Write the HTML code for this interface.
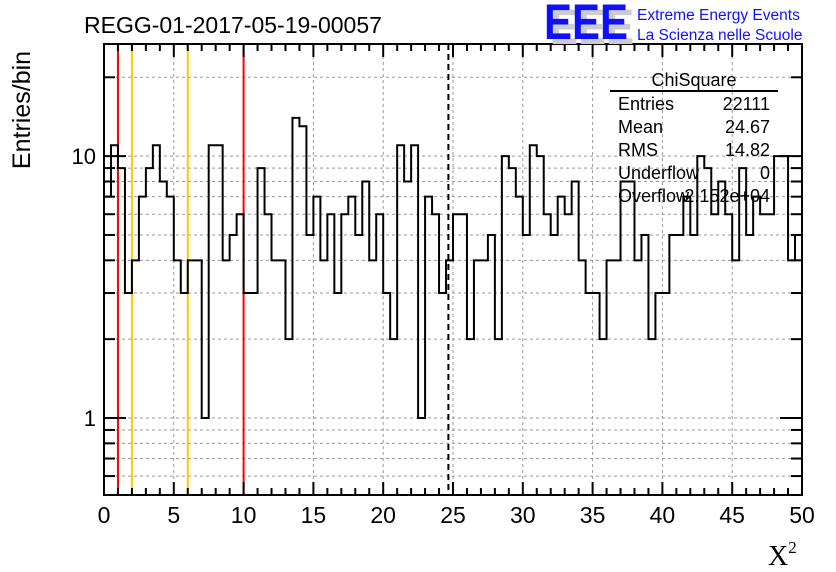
<!DOCTYPE html>
<html><head><meta charset="utf-8"><style>
body{margin:0;background:#fff;}
svg{display:block;font-family:"Liberation Sans",sans-serif;}
</style></head><body>
<svg id="chart" width="836" height="572" viewBox="0 0 836 572" xmlns="http://www.w3.org/2000/svg">
<rect width="836" height="572" fill="#fff"/>
<g id="grid"></g>
<g id="marks"></g>
<path id="hist" fill="none" stroke="#000" stroke-width="2"/>
<g id="axes"></g>
<rect x="104" y="44" width="698" height="451" fill="none" stroke="#000" stroke-width="2"/>
<text x="84" y="33" font-size="23">REGG-01-2017-05-19-00057</text>
<g>
<text x="550" y="44" font-size="50" font-weight="bold" fill="#ccc" textLength="84" lengthAdjust="spacingAndGlyphs">EEE</text>
<text x="544" y="39" font-size="50" font-weight="bold" fill="#1010ff" textLength="84" lengthAdjust="spacingAndGlyphs">EEE</text>
<text x="637" y="20" font-size="15.5" fill="#1010ff">Extreme Energy Events</text>
<text x="637" y="40" font-size="15.5" fill="#1010ff">La Scienza nelle Scuole</text>
</g>
<text transform="translate(30,110) rotate(-90)" text-anchor="middle" font-size="25">Entries/bin</text>
<text x="768" y="565" font-family="Liberation Serif,serif" font-size="28">X<tspan font-size="17" dy="-12">2</tspan></text>
<g font-size="18">
<text x="694" y="86" text-anchor="middle">ChiSquare</text>
<line x1="610" y1="91" x2="778" y2="91" stroke="#000" stroke-width="2"/>
<text x="618" y="110">Entries</text><text x="770" y="110" text-anchor="end">22111</text>
<text x="618" y="133">Mean</text><text x="770" y="133" text-anchor="end">24.67</text>
<text x="618" y="156">RMS</text><text x="770" y="156" text-anchor="end">14.82</text>
<text x="618" y="179">Underflow</text><text x="770" y="179" text-anchor="end">0</text>
<text x="618" y="202">Overflow</text><text x="770" y="202" text-anchor="end">2.152e+04</text>
</g>
</svg>
<script>
const counts = [7,11,9,3,4,7,9,11,8,7,4,3,4,4,1,11,11,4,5,6,3,3,9,6,4,4,2,14,13,5,7,4,6,3,6,7,5,8,4,6,3,2,11,8,11,1,7,6,3,4,
6,6,2,4,4,5,2,10,9,7,5,11,10,6,5,7,6,8,4,3,3,2,4,4,8,8,4,5,2,3,3,5,5,7,5,10,9,6,8,6,4,9,5,7,6,6,10,10,4,5];
const xMin = 0, xMax = 50;
const xTicks = [0,5,10,15,20,25,30,35,40,45,50];
const yLabels = [1,10];
const redLines = [1,10];
const orangeLines = [2,6];
const meanValue = 24.67;
const L=104,R=802,T=44,B=495, yMinV=0.508, yMaxV=26.8;
const NS="http://www.w3.org/2000/svg";
function X(v){return L+(v-xMin)/(xMax-xMin)*(R-L);}
function Y(v){return B-(Math.log10(v)-Math.log10(yMinV))/(Math.log10(yMaxV)-Math.log10(yMinV))*(B-T);}
function mk(tag,attrs,parent){const e=document.createElementNS(NS,tag);for(const k in attrs)e.setAttribute(k,attrs[k]);parent.appendChild(e);return e;}
const grid=document.getElementById('grid'), axes=document.getElementById('axes'), marks=document.getElementById('marks');
const yt=[];
for(const d of [0.1,1,10]) for(let m=1;m<10;m++){const v=d*m;if(v>=yMinV&&v<=yMaxV)yt.push(v);}
yt.forEach(v=>{
  const g=mk('line',{x1:L,x2:R,y1:Y(v),y2:Y(v),stroke:'#999','stroke-dasharray':'3,3','stroke-width':1},grid);
  
  
  const major=(v===1||v===10);
  const len=major?22:11;
  const t1=mk('line',{x1:L,x2:L+len,y1:Y(v),y2:Y(v),stroke:'#000','stroke-width':2},axes);
  
  
  const t2=mk('line',{x1:R,x2:R-len,y1:Y(v),y2:Y(v),stroke:'#000','stroke-width':2},axes);
  
  
});
yLabels.forEach(v=>{
  const t=mk('text',{x:L-8,y:Y(v)+8,'text-anchor':'end','font-size':22},axes);
  t.textContent=v;
  
  
});
for(let v=xMin;v<=xMax;v++){
  const major=v%5===0, len=major?13:7;
  const a=mk('line',{x1:X(v),x2:X(v),y1:B,y2:B-len,stroke:'#000','stroke-width':2},axes);
  
  
  const b=mk('line',{x1:X(v),x2:X(v),y1:T,y2:T+len,stroke:'#000','stroke-width':2},axes);
  
  
}
xTicks.forEach(v=>{
  const g=mk('line',{x1:X(v),x2:X(v),y1:T,y2:B,stroke:'#999','stroke-dasharray':'3,3','stroke-width':1},grid);
  
  
  const t=mk('text',{x:X(v),y:B+28,'text-anchor':'middle','font-size':23},axes);
  t.textContent=v;
  
  
});
const w=(xMax-xMin)/counts.length;
let d='M'+X(xMin)+','+Y(counts[0]);
counts.forEach((c,i)=>{d+=' L'+X(xMin+i*w)+','+Y(c)+' L'+X(xMin+(i+1)*w)+','+Y(c);});
document.getElementById('hist').setAttribute('d',d);
redLines.forEach(v=>{const l=mk('line',{x1:X(v),x2:X(v),y1:T,y2:B,stroke:'#ff0000','stroke-width':2},marks);
  
  });
orangeLines.forEach(v=>{const l=mk('line',{x1:X(v),x2:X(v),y1:T,y2:B,stroke:'#ffc800','stroke-width':2},marks);
  
  });
const ml=mk('line',{x1:X(meanValue),x2:X(meanValue),y1:T,y2:B,stroke:'#000','stroke-width':2,'stroke-dasharray':'6,4'},marks);


</script>
</body></html>
